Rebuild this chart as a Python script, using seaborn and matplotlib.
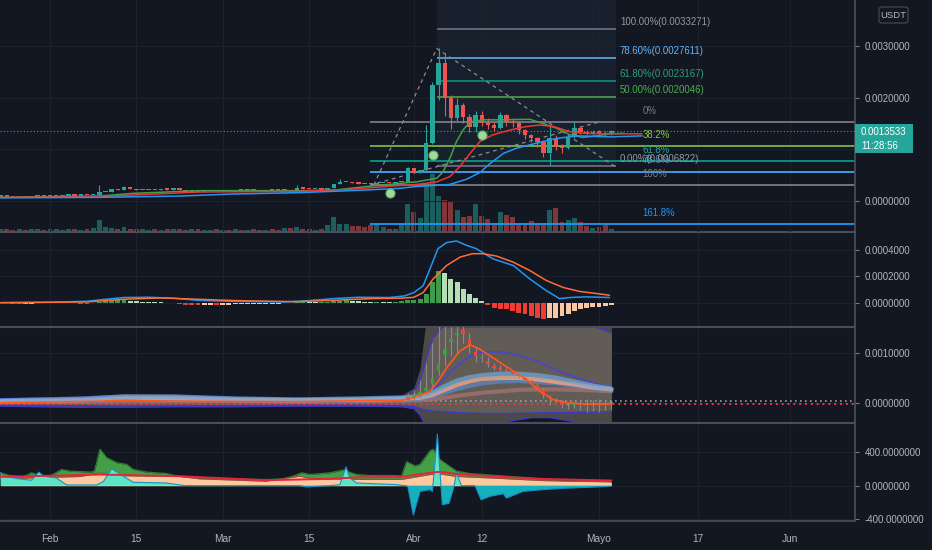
import numpy as np
import pandas as pd
import matplotlib
matplotlib.use("Agg")
import matplotlib.pyplot as plt
import seaborn as sns
from matplotlib.patches import Rectangle, FancyBboxPatch
from matplotlib.ticker import FuncFormatter

# ---------------------------------------------------------------- data
# daily bars, 2021-01-24 .. 2021-05-03; x axis is "days since 1 Feb"
start_date = "2021-01-24"
end_date = "2021-05-03"
origin = "2021-02-01"
tick_dates = ["2021-02-01", "2021-02-15", "2021-03-01", "2021-03-15", "2021-04-01",
              "2021-04-12", "2021-05-01", "2021-05-17", "2021-06-01"]
tick_labels = ["Feb", "15", "Mar", "15", "Abr", "12", "Mayo", "17", "Jun"]

# prices in units of 0.001 USDT
first_open = 0.083
price_close = [
    0.085, 0.082, 0.080, 0.083, 0.081, 0.085, 0.088, 0.086,
    0.092, 0.095, 0.105, 0.108, 0.104, 0.110, 0.108, 0.112,
    0.175, 0.180, 0.225, 0.215, 0.275, 0.235, 0.205, 0.215,
    0.220, 0.212, 0.225, 0.218, 0.245, 0.210, 0.180, 0.190,
    0.175, 0.185, 0.195, 0.190, 0.200, 0.195, 0.205, 0.198,
    0.208, 0.200, 0.195, 0.205, 0.200, 0.198, 0.210, 0.195,
    0.250, 0.240, 0.225, 0.230, 0.220, 0.250, 0.335, 0.360,
    0.370, 0.345, 0.335, 0.330, 0.320, 0.350, 0.355, 0.345,
    0.360, 0.370, 0.632, 0.550, 0.600, 1.116, 2.244, 2.663,
    1.986, 1.599, 1.857, 1.631, 1.438, 1.663, 1.502, 1.470,
    1.405, 1.663, 1.534, 1.500, 1.373, 1.277, 1.210, 1.148,
    0.922, 1.212, 1.051, 1.019, 1.244, 1.405, 1.341, 1.300,
    1.330, 1.320, 1.290, 1.353]
wick_high = {8: 0.31, 12: 0.29, 40: 0.31, 47: 0.42, 58: 0.65, 61: 1.47, 62: 2.30,
             63: 2.95, 64: 2.86, 65: 2.05, 66: 2.00, 67: 1.90, 68: 1.68, 69: 1.75,
             70: 1.75, 71: 1.60, 72: 1.52, 73: 1.72, 74: 1.68, 75: 1.60, 76: 1.55,
             77: 1.40, 78: 1.30, 79: 1.24, 80: 1.18, 81: 1.45, 82: 1.28, 83: 1.10,
             84: 1.28, 85: 1.53, 86: 1.45, 87: 1.38, 88: 1.38, 89: 1.38, 90: 1.36, 91: 1.37}
wick_low = {61: 0.58, 62: 1.10, 63: 1.95, 64: 1.65, 65: 1.40, 66: 1.55, 67: 1.50,
            68: 1.33, 69: 1.33, 70: 1.45, 71: 1.40, 72: 1.36, 73: 1.40, 74: 1.45,
            75: 1.44, 76: 1.30, 77: 1.20, 78: 1.14, 79: 1.05, 80: 0.85, 81: 0.69,
            82: 0.98, 83: 0.92, 84: 1.00, 85: 1.22, 86: 1.30, 87: 1.27, 88: 1.28,
            89: 1.28, 90: 1.26, 91: 1.28}
last_price = 0.0013533
countdown = "11:28:56"

volume = [3, 3, 2, 3, 2, 3, 3, 2,
          3, 3, 2, 3, 3, 2, 3, 4,
          12, 5, 4, 3, 5, 3, 3, 3,
          2, 3, 2, 3, 3, 3, 2, 3,
          3, 2, 2, 3, 2, 2, 3, 2,
          2, 3, 2, 2, 3, 2, 4, 4,
          5, 3, 3, 2, 3, 7, 15, 8,
          8, 6, 6, 5, 7, 8, 5, 3,
          3, 8, 28, 20, 14, 49, 58, 36,
          32, 31, 22, 15, 16, 28, 16, 13,
          9, 20, 17, 15, 8, 9, 11, 8,
          9, 22, 24, 10, 12, 14, 10, 6,
          4, 5, 7, 3]

# moving averages (day, value in 0.001)
green_ma_days = [-8, 8.1, 13.5, 24.3, 40.5, 46, 51.3, 56.7, 59.4, 62.7, 63.7, 64.8, 65.9,
                 67.0, 68.1, 70.2, 72.9, 77.8, 79.9, 82.1, 84.3, 86.4, 88.6, 90.8, 93]
green_ma_vals = [0.07, 0.096, 0.148, 0.20, 0.20, 0.21, 0.28, 0.34, 0.37, 0.44, 0.56, 0.82, 1.15,
                 1.38, 1.53, 1.57, 1.57, 1.58, 1.50, 1.41, 1.28, 1.23, 1.26, 1.30, 1.31]
red_ma_days = [-8, 8.1, 13.5, 24.3, 40.5, 48.5, 56.7, 59.4, 62.7, 64.8, 66.4, 68.1, 69.7,
               71.8, 74.5, 77.2, 79.4, 81.6, 84.3, 86.4, 90.8, 96]
red_ma_vals = [0.07, 0.083, 0.116, 0.174, 0.187, 0.225, 0.30, 0.32, 0.37, 0.47, 0.66, 0.92, 1.15,
               1.28, 1.37, 1.44, 1.47, 1.44, 1.34, 1.31, 1.30, 1.30]
blue_ma_days = [-8, 8.1, 21.1, 29.7, 40.5, 51.3, 56.7, 59.4, 64.8, 67.5, 69.7, 71.3, 73.5,
                75.6, 78.9, 82.1, 85.4, 90.8, 96]
blue_ma_vals = [0.06, 0.07, 0.096, 0.135, 0.161, 0.213, 0.245, 0.28, 0.32, 0.42, 0.55, 0.72, 0.92,
                1.02, 1.12, 1.21, 1.26, 1.24, 1.26]
signal_dot_days = [55.1, 62.1, 70.0]
signal_dot_vals = [0.16, 0.89, 1.28]

# fibonacci tools (prices in USDT)
fib1_pct = ["100.00%", "78.60%", "61.80%", "50.00%", "0.00%"]
fib1_price = [0.0033271, 0.0027611, 0.0023167, 0.0020046, 0.0006822]
fib2_pct = ["0%", "38.2%", "61.8%", "78.6%", "100%", "161.8%"]
fib2_price = [0.001528, 0.001062, 0.000775, 0.000570, 0.000309, -0.000444]
trend_path_days = [52.5, 62.7, 91.7]
trend_path_vals = [0.31, 2.95, 0.66]
diag_days = [51.9, 89.0]
diag_vals = [0.309, 1.528]

# MACD (units of 0.0001)
macd_hist = [0.03, 0.02, -0.02, -0.03, -0.02, -0.02, 0.02, 0.03,
             0.04, 0.05, 0.06, 0.05, 0.04, -0.02, -0.03, 0.05,
             0.12, 0.18, 0.22, 0.24, 0.25, 0.20, 0.15, 0.12,
             0.10, 0.08, 0.06, 0.05, 0.03, -0.05, -0.10, -0.14,
             -0.16, -0.15, -0.14, -0.16, -0.12, -0.10, -0.09, -0.08,
             -0.07, -0.06, -0.05, -0.04, -0.03, -0.02, -0.01, 0.03,
             0.10, 0.12, 0.10, 0.09, 0.10, 0.12, 0.16, 0.20,
             0.22, 0.18, 0.14, 0.12, 0.10, 0.10, 0.09, 0.08,
             0.10, 0.15, 0.25, 0.25, 0.30, 0.68, 1.60, 2.40,
             2.26, 1.80, 1.56, 1.10, 0.68, 0.43, 0.20, -0.10,
             -0.33, -0.40, -0.45, -0.58, -0.70, -0.83, -0.96, -1.08,
             -1.16, -1.08, -1.08, -0.96, -0.83, -0.58, -0.45, -0.38,
             -0.30, -0.25, -0.20, -0.15]
macd_days = [-8, 0, 6, 9, 12, 16, 20, 24, 30, 38, 42, 46, 50, 55, 57.5, 59, 60.5, 61.6, 62.9,
             64.3, 65.9, 67.5, 69.1, 71.8, 75.1, 77.8, 80.5, 82.6, 84.3, 86.8, 90.7]
macd_vals = [0.05, 0.08, 0.15, 0.30, 0.43, 0.45, 0.38, 0.22, 0.14, 0.10, 0.20, 0.35, 0.45, 0.43,
             0.55, 0.80, 1.31, 2.57, 4.08, 4.53, 4.65, 4.33, 4.08, 3.32, 2.82, 1.81, 0.93, 0.35,
             0.43, 0.48, 0.43]
signal_days = [-8, 6, 12, 18, 24, 30, 40, 46, 52, 57, 59, 60.5, 62.1, 64.3, 66.5, 68.5, 70.2,
               72.4, 75.1, 77.8, 80.5, 83.2, 85.9, 88.6, 90.7]
signal_vals = [0.04, 0.10, 0.30, 0.40, 0.30, 0.20, 0.12, 0.22, 0.35, 0.38, 0.45, 0.80, 1.81,
               2.82, 3.45, 3.70, 3.70, 3.52, 3.07, 2.44, 1.69, 1.18, 0.88, 0.73, 0.60]

# band panel (units of 0.001)
ha_first_day = 57
ha_open = [0.03, 0.06, 0.10, 0.14, 0.23, 0.37, 0.65, 0.97, 1.22, 1.36, 1.47, 1.29, 1.02, 0.93,
           0.84, 0.74, 0.71, 0.67, 0.62, 0.57, 0.50, 0.43, 0.35, 0.26, 0.13, 0.07, 0.02, -0.03,
           -0.05, -0.02, -0.01, -0.02, -0.01, -0.02, -0.01]
ha_close = [0.06, 0.12, 0.14, 0.22, 0.30, 0.50, 0.79, 1.08, 1.29, 1.40, 1.39, 1.15, 0.95, 0.90,
            0.79, 0.71, 0.69, 0.64, 0.58, 0.53, 0.46, 0.38, 0.30, 0.16, 0.09, 0.05, -0.03, -0.04,
            -0.02, -0.01, -0.02, -0.01, -0.02, -0.01, -0.01]
ha_high = [0.08, 0.20, 0.25, 0.45, 0.80, 1.20, 1.60, 1.60, 1.60, 1.60, 1.60, 1.40, 1.12, 1.00,
           0.92, 0.80, 0.76, 0.70, 0.66, 0.60, 0.54, 0.47, 0.40, 0.30, 0.16, 0.10, 0.05, 0.02,
           0.02, 0.06, 0.08, 0.06, 0.07, 0.05, 0.06]
ha_low = [0.02, 0.04, 0.05, 0.10, 0.15, 0.25, 0.55, 0.75, 0.95, 1.00, 1.20, 1.00, 0.82, 0.82,
          0.72, 0.66, 0.64, 0.60, 0.55, 0.50, 0.43, 0.36, 0.28, 0.10, -0.05, 0.00, -0.10, -0.12,
          -0.10, -0.15, -0.18, -0.16, -0.18, -0.14, -0.12]
env_days = [-8, 5, 12, 20, 30, 40, 50, 57, 59, 60, 61, 62, 66, 70, 74, 78, 81, 85, 88, 91]
env_upper = [0.10, 0.14, 0.18, 0.17, 0.12, 0.10, 0.12, 0.15, 0.30, 0.70, 1.70, 1.70, 1.70, 1.70,
             1.70, 1.70, 1.70, 1.70, 1.70, 1.70]
env_lower = [-0.07, -0.09, -0.09, -0.08, -0.08, -0.07, -0.07, -0.08, -0.12, -0.25, -0.50, -0.50,
             -0.50, -0.50, -0.38, -0.30, -0.30, -0.38, -0.50, -0.50]
inner_upper = [0.08, 0.11, 0.14, 0.13, 0.10, 0.08, 0.09, 0.11, 0.22, 0.45, 0.90, 1.30, 1.90, 1.90,
               1.90, 1.90, 1.85, 1.70, 1.55, 1.42]
inner_lower = [-0.05, -0.06, -0.07, -0.06, -0.06, -0.05, -0.05, -0.06, -0.08, -0.12, -0.15, -0.17,
               -0.20, -0.22, -0.22, -0.21, -0.20, -0.20, -0.19, -0.18]
bundle_days = [-8, 5, 12, 20, 30, 40, 50, 57, 60, 62, 64, 66, 68, 70, 73, 76, 79, 82, 85, 88, 91]
band_a = [0.04, 0.07, 0.12, 0.12, 0.08, 0.06, 0.08, 0.10, 0.12, 0.20, 0.33, 0.44, 0.51, 0.55, 0.58,
          0.58, 0.55, 0.50, 0.42, 0.34, 0.28]
band_b = [0.03, 0.05, 0.09, 0.09, 0.06, 0.05, 0.06, 0.08, 0.10, 0.16, 0.26, 0.36, 0.43, 0.48, 0.50,
          0.50, 0.47, 0.42, 0.37, 0.31, 0.27]
band_c = [0.02, 0.04, 0.07, 0.07, 0.05, 0.04, 0.05, 0.07, 0.08, 0.13, 0.20, 0.28, 0.34, 0.39, 0.43,
          0.44, 0.42, 0.39, 0.34, 0.29, 0.25]
band_d = [0.01, 0.02, 0.03, 0.03, 0.03, 0.02, 0.03, 0.04, 0.05, 0.07, 0.10, 0.14, 0.17, 0.20, 0.23,
          0.26, 0.27, 0.27, 0.26, 0.25, 0.23]
band_mid = [0.06, 0.09, 0.14, 0.13, 0.10, 0.08, 0.09, 0.12, 0.14, 0.25, 0.50, 0.75, 0.93, 1.02, 1.03,
            0.96, 0.84, 0.66, 0.52, 0.40, 0.31]
trend_days = [-8, 8, 12, 20, 40, 50, 57, 59, 60, 61.6, 63, 64.3, 66.5, 68.1, 69.7, 71.3, 73, 75.1,
              77.3, 79.4, 81.6, 83.8, 87, 91]
trend_vals = [0.0, 0.03, 0.05, 0.03, 0.02, 0.04, 0.05, 0.10, 0.15, 0.23, 0.45, 0.71, 1.05, 1.17,
              1.08, 0.95, 0.81, 0.64, 0.47, 0.23, 0.06, 0.0, -0.03, -0.03]
level_red = -0.02
level_gray = 0.027

# bottom oscillator
green_osc_days = [-8, -6.5, -4.3, -3, -2.2, 0, 1.9, 3.2, 6.5, 7.2, 8.1, 9.2, 10.8, 12.4, 13.5,
                  15.7, 18.9, 21.1, 24.3, 29.7, 35.1, 37.8, 39.4, 40.8, 42.1, 45.4, 47.5, 49.7,
                  51.9, 56.2, 57, 57.8, 59.2, 60, 61.6, 62.1, 63.2, 64.3, 65.9, 68.1, 72.4, 77.8,
                  83.2, 90.8]
green_osc_vals = [154, 121, 105, 154, 135, 113, 194, 174, 162, 170, 436, 335, 275, 255, 194,
                  162, 145, 105, 93, 81, 73, 81, 113, 154, 133, 154, 186, 133, 121, 121, 115,
                  287, 235, 255, 416, 436, 315, 255, 174, 145, 121, 93, 53, 61]
peach_days = [-8, 5, 8.1, 10, 21, 24.3, 35, 40.5, 42, 45.4, 50, 57, 61.6, 63.2, 66, 72, 80, 91]
peach_vals = [81, 110, 154, 121, 110, 81, 53, 113, 90, 81, 75, 75, 133, 140, 110, 90, 60, 45]
red_osc_days = [-8, 8.1, 21, 35, 45.4, 50, 57, 61.6, 63.2, 66, 72, 80, 91]
red_osc_vals = [105, 133, 113, 65, 81, 100, 105, 154, 166, 140, 110, 80, 61]
cyan_days = [-8, -7.6, -5, -3, -1.8, -1, 1, 2.7, 7.6, 8.7, 10, 11.9, 13.5, 18.9, 21.1, 22, 40.5,
             41.6, 44, 45.4, 47, 48, 48.6, 49.7, 56.2, 57.5, 58, 58.9, 60, 61.6, 62, 62.8, 63.6,
             64.7, 65.5, 65.9, 66.7, 68.9, 69.9, 71.3, 73.5, 74, 76.7, 79.9, 83.2, 88.6, 90.8]
cyan_vals = [154, 113, 81, 65, 162, 113, 93, 8, 8, 53, 202, 113, 40, 32, 8, 0, 0, -16, -5, 0,
             12, 226, 93, 32, 12, 0, -8, -352, -69, -48, -69, 618, -230, -210, -8, 154, 0, 0,
             -170, -129, -97, -149, -69, -48, -32, -16, -8]

# ---------------------------------------------------------------- style
BG = "#131722"
GRID = "#1e222d"
TXT = "#b2b5be"
EDGE = "#4a4e59"
UP, DOWN = "#26a69a", "#ef5350"
W, H, PLOT_RIGHT = 932, 550, 855

sns.set_theme(style="dark", rc={"axes.facecolor": BG, "figure.facecolor": BG,
                                "savefig.facecolor": BG})
plt.rcParams["font.family"] = ["Liberation Sans", "DejaVu Sans"]

M, M4 = 1e-3, 1e-4
origin_ts = pd.Timestamp(origin)
days = (pd.date_range(start_date, end_date, freq="D") - origin_ts).days.to_numpy()
tick_days = [(pd.Timestamp(d) - origin_ts).days for d in tick_dates]


def panel_rect(top, bottom):
    return [0, 1 - bottom / H, PLOT_RIGHT / W, (bottom - top) / H]


def draw_candles(ax, x, o, c, h, l, up, down, wick=None, neutral=None, min_h=0.0, width=0.72):
    o, c = np.asarray(o), np.asarray(c)
    col = np.where(c >= o, up, down).astype(object)
    if neutral is not None:
        col[np.abs(c - o) < neutral[0]] = neutral[1]
    ax.vlines(x, l, h, colors=list(col) if wick is None else wick, lw=0.8, zorder=4)
    ax.bar(x, np.maximum(np.abs(c - o), min_h), bottom=np.minimum(o, c), width=width,
           color=list(col), lw=0, zorder=5)


def style(ax, yticks):
    ax.set_facecolor(BG)
    ax.set_xlim(-8.1, 130.5)
    ax.set_xticks(tick_days)
    ax.set_yticks(yticks)
    ax.yaxis.tick_right()
    ax.yaxis.set_major_formatter(FuncFormatter(lambda v, p: f"{v:.7f}"))
    ax.tick_params(axis="y", length=3, width=0.8, color="#787b86", labelcolor=TXT,
                   labelsize=7, pad=4)
    ax.tick_params(axis="x", length=0, labelbottom=False)
    ax.grid(True, color=GRID, lw=0.8)
    ax.set_axisbelow(True)
    ax.spines["left"].set_visible(False)
    ax.spines["bottom"].set_visible(False)
    ax.spines["top"].set_color(EDGE)
    ax.spines["top"].set_linewidth(1.5)
    ax.spines["right"].set_color(EDGE)
    ax.set_xlabel("")
    ax.set_ylabel("")


fig = plt.figure(figsize=(W / 100, H / 100), dpi=100)
ax1 = fig.add_axes(panel_rect(0, 232))
axv = fig.add_axes(panel_rect(0, 232), sharex=ax1, label="volume")
ax2 = fig.add_axes(panel_rect(232, 327), sharex=ax1)
ax3 = fig.add_axes(panel_rect(327, 423), sharex=ax1)
ax4 = fig.add_axes(panel_rect(423, 521), sharex=ax1)
axv.set_zorder(0)
ax1.set_zorder(1)
ax1.patch.set_visible(False)

# ---------------------------------------------------------------- price panel
close = np.array(price_close) * M
opn = np.r_[first_open, price_close[:-1]] * M
high = np.maximum(opn, close)
low = np.minimum(opn, close)
for d, v in wick_high.items():
    high[days == d] = v * M
for d, v in wick_low.items():
    low[days == d] = v * M

vol_cols = np.where(close >= opn, "#1c5e5e", "#813539")
axv.bar(days, volume, width=0.8, color=list(vol_cols), lw=0)
axv.set_ylim(0, 232)
axv.set_axis_off()

fib1_x0, fib1_x1, fib1_lbl = 62.7, 91.7, 92.4
fib2_x0, fib2_lbl = 51.9, 96.1
ax1.add_patch(Rectangle((fib1_x0, fib1_price[-1]), fib1_x1 - fib1_x0, 5e-3,
                        color="#19202d", lw=0, zorder=0))
fib1_line = ["#787b86", "#64b5f6", "#089981", "#4caf50", "#787b86"]
fib1_text = ["#9598a1", "#64b5f6", "#2e9e74", "#4caf50", "#9598a1"]
for pct, pr, lc, tc in zip(fib1_pct, fib1_price, fib1_line, fib1_text):
    ax1.hlines(pr, fib1_x0, fib1_x1, color=lc, lw=1.1, zorder=2)
    ax1.annotate(f"{pct}({pr:.7f})", (fib1_lbl, pr), xytext=(0, 1.5),
                 textcoords="offset points", color=tc, fontsize=6.9, va="bottom",
                 ha="left", zorder=9)
fib2_line = ["#787b86", "#7cb342", "#089981", "#42a5f5", "#787b86", "#2196f3"]
fib2_text = ["#787b86", "#8bc34a", "#26a69a", "#5d8fb8", "#787b86", "#2196f3"]
for pct, pr, lc, tc in zip(fib2_pct, fib2_price, fib2_line, fib2_text):
    ax1.hlines(pr, fib2_x0, 131, color=lc, lw=1.3, zorder=2)
    ax1.annotate(pct, (fib2_lbl, pr), xytext=(0, 4.5), textcoords="offset points",
                 color=tc, fontsize=6.9, va="bottom", ha="left", zorder=9)

ax1.plot(trend_path_days, np.array(trend_path_vals) * M, ls=(0, (3, 3)), color="#8a8d96",
         lw=0.9, zorder=3)
ax1.plot(diag_days, np.array(diag_vals) * M, ls=(0, (3, 3)), color="#8a8d96", lw=0.9, zorder=3)
ax1.axhline(last_price, color=UP, ls=(0, (1, 2)), lw=0.8, zorder=3)

draw_candles(ax1, days, opn, close, high, low, UP, DOWN, min_h=0.025 * M)
sns.lineplot(x=green_ma_days, y=np.array(green_ma_vals) * M, ax=ax1, color="#43a047", lw=1.1, zorder=6)
sns.lineplot(x=red_ma_days, y=np.array(red_ma_vals) * M, ax=ax1, color="#e53935", lw=1.1, zorder=6)
sns.lineplot(x=blue_ma_days, y=np.array(blue_ma_vals) * M, ax=ax1, color="#2196f3", lw=1.1, zorder=6)
sns.scatterplot(x=signal_dot_days, y=np.array(signal_dot_vals) * M, ax=ax1, s=42,
                color="#9fd8a0", edgecolor="#5cb85f", linewidth=0.8, zorder=8)
ax1.set_ylim(-0.600e-3, 3.888e-3)
style(ax1, [0, 0.001, 0.002, 0.003])
ax1.spines["top"].set_visible(False)

# ---------------------------------------------------------------- MACD panel
hist = np.array(macd_hist)
prev = np.r_[hist[0], hist[:-1]]
hist_cols = np.where(hist >= 0, np.where(hist >= prev, "#3f9a4b", "#b4dfb6"),
                     np.where(hist < prev, "#f23c33", "#f8c7a4"))
ax2.bar(days, hist * M4, width=0.8, color=list(hist_cols), lw=0, zorder=2)
sns.lineplot(x=macd_days, y=np.array(macd_vals) * M4, ax=ax2, color="#2196f3", lw=1.1, zorder=3)
sns.lineplot(x=signal_days, y=np.array(signal_vals) * M4, ax=ax2, color="#ff6d3a", lw=1.1, zorder=3)
ax2.set_ylim(-1.77e-4, 5.32e-4)
style(ax2, [0, 2e-4, 4e-4])

# ---------------------------------------------------------------- band panel
ax3.fill_between(env_days, np.array(env_lower) * M, np.array(env_upper) * M,
                 color="#4d4945", lw=0, zorder=1)
ax3.fill_between(env_days, np.array(inner_lower) * M, np.array(inner_upper) * M,
                 color="#625c56", lw=0, zorder=1)
for arr in (env_lower, inner_upper, inner_lower):
    ax3.plot(env_days, np.array(arr) * M, color="#3d37c4", lw=1.0, zorder=2)
sns.lineplot(x=bundle_days, y=np.array(band_mid) * M, ax=ax3, color="#4a44d0", lw=1.2, zorder=2)
sns.lineplot(x=bundle_days, y=np.array(band_d) * M, ax=ax3, color="#a0706c", lw=3, alpha=0.85, zorder=3)
sns.lineplot(x=bundle_days, y=np.array(band_c) * M, ax=ax3, color="#5b87c8", lw=3, alpha=0.75, zorder=3)
sns.lineplot(x=bundle_days, y=np.array(band_b) * M, ax=ax3, color="#f0a27e", lw=3, alpha=0.85, zorder=3)
sns.lineplot(x=bundle_days, y=np.array(band_a) * M, ax=ax3, color="#6fa8dc", lw=3.5, alpha=0.7, zorder=3)
ax3.axhline(level_gray * M, color="#9a9aa8", ls=(0, (1, 2)), lw=1.2, zorder=2)
ax3.axhline(level_red * M, color="#f23645", ls=(0, (1, 2)), lw=1.4, zorder=2)
ha_days = days[days >= ha_first_day]
draw_candles(ax3, ha_days, np.array(ha_open) * M, np.array(ha_close) * M,
             np.array(ha_high) * M, np.array(ha_low) * M, "#3c9f48", "#f0443a",
             wick="#8a8a8a", neutral=(0.015 * M, "#8d8d8d"), min_h=0.02 * M, width=0.6)
sns.lineplot(x=trend_days, y=np.array(trend_vals) * M, ax=ax3, color="#ff5722", lw=1.2, zorder=6)
ax3.set_ylim(-0.41e-3, 1.53e-3)
style(ax3, [0, 0.001])

# ---------------------------------------------------------------- oscillator panel
ax4.fill_between(green_osc_days, 0, green_osc_vals, color="#43a047", lw=0, zorder=1)
ax4.plot(green_osc_days, green_osc_vals, color="#2e7d32", lw=0.9, zorder=1)
ax4.fill_between(peach_days, 0, peach_vals, color="#fdc9a0", lw=0, zorder=2)
ax4.plot(peach_days, peach_vals, color="#a14a3c", lw=0.8, zorder=2)
cv = np.array(cyan_vals)
ax4.fill_between(cyan_days, 0, cv, where=cv >= 0, interpolate=True, color="#5fe3c5", lw=0, zorder=3)
ax4.fill_between(cyan_days, 0, cv, where=cv < 0, interpolate=True, color="#14b1bd", lw=0, zorder=3)
sns.lineplot(x=cyan_days, y=cyan_vals, ax=ax4, color="#1590c8", lw=0.8, zorder=4)
sns.lineplot(x=red_osc_days, y=red_osc_vals, ax=ax4, color="#e5243b", lw=1.4, zorder=5)
ax4.set_ylim(-424, 751)
style(ax4, [-400, 0, 400])
ax4.set_xticks(tick_days)
ax4.set_xticklabels(tick_labels)
ax4.spines["bottom"].set_visible(True)
ax4.spines["bottom"].set_color(EDGE)
ax4.tick_params(axis="x", labelbottom=True, length=4, color="#787b86", labelcolor=TXT,
                labelsize=7.3, pad=5)

# ---------------------------------------------------------------- right-hand labels
fx = lambda x: x / W
fy = lambda y: 1 - y / H
fig.add_artist(Rectangle((fx(855), fy(153)), fx(58), 29 / H, transform=fig.transFigure,
                         color=UP, lw=0, zorder=10))
fig.text(fx(861), fy(132), f"{last_price:.7f}", color="white", fontsize=7, va="center",
         ha="left", zorder=11)
fig.text(fx(861), fy(146), countdown, color="white", fontsize=7, va="center", ha="left",
         zorder=11)
fig.add_artist(FancyBboxPatch((fx(879), fy(23)), fx(29), 16 / H, transform=fig.transFigure,
                              boxstyle="round,pad=0,rounding_size=0.004", fc=BG,
                              ec="#434651", lw=0.9, zorder=10))
fig.text(fx(893.5), fy(15), "USDT", color=TXT, fontsize=6.8, va="center", ha="center",
         zorder=11)

fig.savefig("out.png", dpi=100, facecolor=BG)
